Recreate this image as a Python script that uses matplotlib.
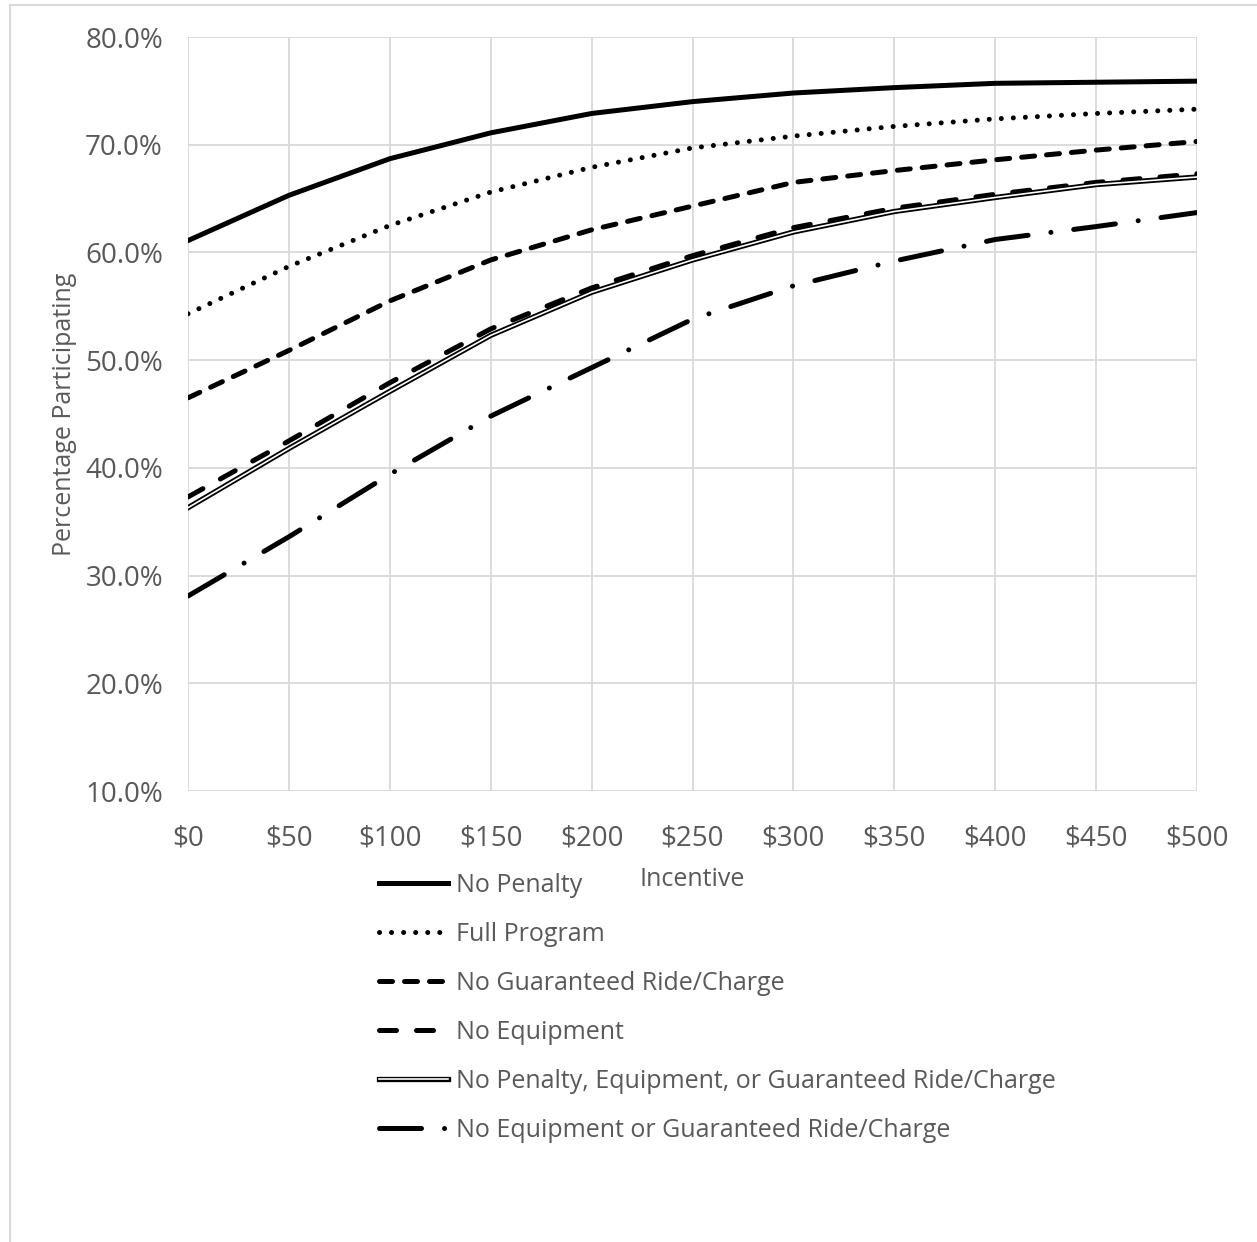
import matplotlib
matplotlib.use('Agg')
import matplotlib.pyplot as plt
import matplotlib.patheffects as pe
from matplotlib.patches import Rectangle
from matplotlib.ticker import FuncFormatter

# incentive levels ($) and share of respondents participating (%)
incentive = [0, 50, 100, 150, 200, 250, 300, 350, 400, 450, 500]

no_penalty = [61.1, 65.3, 68.7, 71.1, 72.9, 74.0, 74.8, 75.3, 75.7, 75.8, 75.9]
full_program = [54.3, 58.7, 62.5, 65.6, 67.9, 69.7, 70.8, 71.7, 72.4, 72.9, 73.3]
no_ride = [46.5, 50.9, 55.5, 59.3, 62.1, 64.3, 66.5, 67.6, 68.6, 69.5, 70.3]
no_equipment = [37.3, 42.5, 47.9, 52.9, 56.7, 59.7, 62.3, 64.1, 65.4, 66.5, 67.3]
no_pen_eq_ride = [36.3, 41.8, 47.1, 52.3, 56.3, 59.3, 61.9, 63.8, 65.1, 66.3, 67.0]
no_eq_ride = [28.1, 33.6, 39.4, 44.8, 49.3, 53.8, 56.9, 59.2, 61.2, 62.4, 63.7]

plt.rcParams['font.family'] = ['Open Sans', 'DejaVu Sans']
grey_text = '#595959'
grid_grey = '#d9d9d9'

fig = plt.figure(figsize=(12.57, 12.42), dpi=100)
ax = fig.add_axes([188/1257, 1-791/1242, (1197-188)/1257, (791-37)/1242])

# light chart-area border
fig.patches.append(Rectangle((10/1257, -0.1), 1.2, 1-5/1242+0.1, transform=fig.transFigure,
                             fill=False, edgecolor=grid_grey, linewidth=1.5))

lw = 3.6
ax.plot(incentive, no_penalty, color='black', lw=lw, label='No Penalty')
ax.plot(incentive, full_program, color='black', lw=lw, ls=(0, (0.01, 2.4)),
        dash_capstyle='round', label='Full Program')
ax.plot(incentive, no_ride, color='black', lw=lw, ls=(0, (2.6, 2.4)),
        dash_capstyle='round', label='No Guaranteed Ride/Charge')
ax.plot(incentive, no_equipment, color='black', lw=lw, ls=(0, (3.4, 4.0)),
        dash_capstyle='round', label='No Equipment')
ax.plot(incentive, no_pen_eq_ride, color='white', lw=1.2,
        path_effects=[pe.Stroke(linewidth=3.8, foreground='black'), pe.Normal()],
        label='No Penalty, Equipment, or Guaranteed Ride/Charge')
ax.plot(incentive, no_eq_ride, color='black', lw=lw, ls=(0, (8.4, 4.6, 0.01, 4.6)),
        dash_capstyle='round', label='No Equipment or Guaranteed Ride/Charge')

ax.set_xlim(0, 500)
ax.set_ylim(10, 80)
ax.set_xticks(incentive)
ax.set_yticks(range(10, 81, 10))
ax.xaxis.set_major_formatter(FuncFormatter(lambda v, p: '${:.0f}'.format(v)))
ax.yaxis.set_major_formatter(FuncFormatter(lambda v, p: '{:.1f}%'.format(v)))
ax.tick_params(length=0, labelsize=20, colors=grey_text)
ax.tick_params(axis='y', pad=18)
ax.tick_params(axis='x', pad=24)
ax.grid(True, color=grid_grey, lw=1.3)
ax.set_axisbelow(True)
for s in ax.spines.values():
    s.set_visible(False)

ax.set_ylabel('Percentage Participating', fontsize=18, color=grey_text, labelpad=6)
fig.text(692/1257, 1-880/1242, 'Incentive', fontsize=18, color=grey_text, ha='center', va='center')

leg = fig.legend(loc='upper left', bbox_to_anchor=(379/1257, 1-873/1242), frameon=False,
                 fontsize=18, handlelength=2.76, handletextpad=0.32, labelspacing=0.96,
                 borderpad=0, borderaxespad=0)
for t in leg.get_texts():
    t.set_color(grey_text)

fig.savefig('out.png', dpi=100)
